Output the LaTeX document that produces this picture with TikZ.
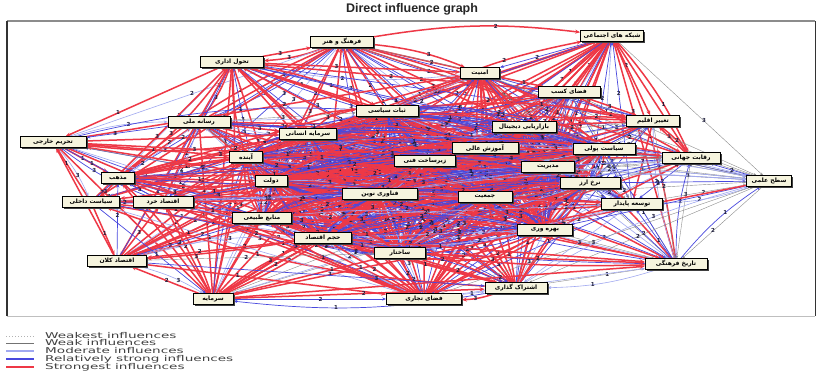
\documentclass[tikz,border=0pt]{standalone}
\usepackage{fontspec}
\setmainfont{DejaVu Sans}
\newfontfamily\arabicfont[Script=Arabic]{DejaVu Sans}
\newfontfamily\titlefont{Liberation Sans}
\usetikzlibrary{arrows.meta,shadows,backgrounds}
\TeXXeTstate=1
\definecolor{strongred}{RGB}{238,56,70}
\definecolor{relblue}{RGB}{72,72,222}
\definecolor{modblue}{RGB}{160,168,240}
\definecolor{weakgray}{RGB}{140,140,140}
\definecolor{boxfill}{RGB}{246,244,222}
\definecolor{labdark}{RGB}{30,30,60}
\pgfdeclarelayer{edges}
\pgfsetlayers{background,edges,main}
\tikzset{
 fac/.style={draw=black, line width=0.7pt, fill=boxfill, minimum height=10.5pt, inner sep=1pt,
   font=\arabicfont\bfseries\fontsize{6}{6.5}\selectfont,
   drop shadow={shadow xshift=1.6pt, shadow yshift=-1.6pt, fill=black!75, opacity=1}},
 e1/.style={draw=strongred, line width=1.5pt, -{Stealth[length=5pt,width=4pt]}},
 e2/.style={draw=relblue, line width=0.7pt, -{Stealth[length=4pt,width=3pt]}},
 e3/.style={draw=modblue, line width=0.6pt, -{Stealth[length=4pt,width=3pt]}},
 e4/.style={draw=weakgray, line width=0.4pt, -{Stealth[length=3pt,width=2.5pt]}},
 elab/.style={font=\bfseries\fontsize{5.5}{5.5}\selectfont, text=labdark, inner sep=0.4pt},
 legtext/.style={anchor=west, font=\fontsize{8}{8.5}\selectfont, text=black!75, inner sep=0pt},
}
\newcommand\mkfac[4]{\node[fac, minimum width=#3pt] (n#1) at (#2) {#4};}
\def\rwarr{{0.7,0.6,0.6,0.6,0.5,0.4,0.6,0.55,0.6,0.55,0.55,0.6,0.6,0.5,0.4,0.6,0.55,0.6,0.6,0.5,0.05,0.6,0.6,0.6,0.55,0.4,0.55,0.55,0.5,0.5,0.3,0.55,0.55,0.6,0.6}}
\def\cenarr{{0,0,0,0,0,0,1,0,0,1,1,1,1,1,0,1,1,0,1,1,0,1,1,0,0,0,1,1,1,1,0,0,0,0,0}}
\begin{document}
\begin{tikzpicture}[x=1pt,y=-1pt]
\begin{pgfonlayer}{background}
\fill[white] (0,0) rectangle (817,388);
\fill[white] (7,21) rectangle (815,316);
\draw[black!45, line width=1.6pt] (7,21) -- (815,21);
\draw[black!80, line width=1.4pt] (7,21) -- (7,316);
\draw[black!80, line width=0.8pt] (815,21) -- (815,316);
\draw[black!25, line width=0.8pt] (7,316) -- (815,316);
\end{pgfonlayer}
\useasboundingbox (0,0) rectangle (817,388);
\node[font=\titlefont\bfseries\fontsize{12.5}{14}\selectfont, text=black!85] (title) at (412,9) {Direct influence graph};
% factors
\mkfac{1}{612,36}{63}{\beginR شبکه های اجتماعی\endR}
\mkfac{2}{342,42}{63}{\beginR فرهنگ و هنر\endR}
\mkfac{3}{232,62}{63}{\beginR تحول اداری\endR}
\mkfac{4}{480,73}{39}{\beginR امنیت\endR}
\mkfac{5}{569,92}{62}{\beginR فضای کسب\endR}
\mkfac{6}{653,121}{53}{\beginR تغییر اقلیم\endR}
\mkfac{7}{524,127}{64}{\beginR بازاریابی دیجیتال\endR}
\mkfac{8}{199,122}{62}{\beginR رسانه ملی\endR}
\mkfac{9}{53,142}{66}{\beginR تحریم خارجی\endR}
\mkfac{10}{387,111}{62}{\beginR ثبات سیاسی\endR}
\mkfac{11}{308,134}{57}{\beginR سرمایه انسانی\endR}
\mkfac{12}{246,157}{33}{\beginR آینده\endR}
\mkfac{13}{485,148}{66}{\beginR آموزش عالی\endR}
\mkfac{14}{604,149}{62}{\beginR سیاست پولی\endR}
\mkfac{15}{691,158}{58}{\beginR رقابت جهانی\endR}
\mkfac{16}{425,161}{61}{\beginR زیرساخت فنی\endR}
\mkfac{17}{548,167}{53}{\beginR مدیریت\endR}
\mkfac{18}{118,178}{33}{\beginR مذهب\endR}
\mkfac{19}{271,181}{32}{\beginR دولت\endR}
\mkfac{20}{590,183}{60}{\beginR نرخ ارز\endR}
\mkfac{21}{769,181}{45}{\beginR سطح علمی\endR}
\mkfac{22}{380,194}{75}{\beginR فناوری نوین\endR}
\mkfac{23}{485,197}{54}{\beginR جمعیت\endR}
\mkfac{24}{91,202}{57}{\beginR سیاست داخلی\endR}
\mkfac{25}{163,202}{60}{\beginR اقتصاد خرد\endR}
\mkfac{26}{632,204}{61}{\beginR توسعه پایدار\endR}
\mkfac{27}{262,218}{59}{\beginR منابع طبیعی\endR}
\mkfac{28}{545,230}{55}{\beginR بهره وری\endR}
\mkfac{29}{323,238}{57}{\beginR حجم اقتصاد\endR}
\mkfac{30}{400,253}{51}{\beginR ساختار\endR}
\mkfac{31}{676,264}{62}{\beginR تاریخ فرهنگی\endR}
\mkfac{32}{117,261}{59}{\beginR اقتصاد کلان\endR}
\mkfac{33}{516,288}{62}{\beginR اشتراک گذاری\endR}
\mkfac{34}{424,299}{75}{\beginR فضای تجاری\endR}
\mkfac{35}{213,299}{40}{\beginR سرمایه\endR}
% connectors
\begin{pgfonlayer}{edges}
\pgfmathsetseed{11}
\foreach \ii in {1,...,34}{
  \pgfmathtruncatemacro{\jstart}{\ii+1}
  \foreach \jj in {\jstart,...,35}{
    \path (n\ii.center); \pgfgetlastxy{\xa}{\ya}
    \path (n\jj.center); \pgfgetlastxy{\xb}{\yb}
    \pgfmathsetmacro{\dist}{veclen(\xa-\xb,\ya-\yb)}
    \pgfmathsetmacro{\pkeep}{min(0.97,1.35-\dist/480)}
    \pgfmathtruncatemacro{\bothc}{\cenarr[\ii-1]*\cenarr[\jj-1]}
    \pgfmathsetmacro{\rwv}{min(0.85,1.6*\rwarr[\ii-1]*\rwarr[\jj-1])}
    \pgfmathsetmacro{\rr}{rnd}
    \pgfmathtruncatemacro{\kk}{\rr<\rwv ? 1 : (\rr<\rwv+0.3 ? 2 : (\rr<\rwv+0.45 ? 3 : 4))}
    \pgfmathtruncatemacro{\dr}{rnd<\pkeep ? 1 : 0}
    \pgfmathtruncatemacro{\dd}{rnd<0.5 ? 1 : 0}
    \pgfmathsetmacro{\pp}{0.3+0.4*rnd}
    \pgfmathtruncatemacro{\lb}{random(1,3)}
    \pgfmathsetmacro{\rs}{rnd}
    \pgfmathtruncatemacro{\kr}{\rs<\rwv ? 1 : (\rs<\rwv+0.3 ? 2 : 3)}
    \pgfmathtruncatemacro{\rv}{(rnd<0.35*\pkeep) || (\bothc==1) ? 1 : 0}
    \pgfmathtruncatemacro{\lbb}{random(1,3)}
    \pgfmathtruncatemacro{\lbc}{random(1,3)}
    \ifnum\dd=1 \def\srcn{n\ii}\def\dstn{n\jj}\else\def\srcn{n\jj}\def\dstn{n\ii}\fi
    \ifnum\dr=1
      \path[e\kk] (\srcn) -- node[elab, pos=\pp]{\lb} (\dstn);
    \fi
    \ifnum\rv=1
      \path[e\kr] (\dstn) to[bend left=8] node[elab, pos=0.6]{\lbb} (\srcn);
    \fi
    \ifnum\bothc=1
      \path[e2] (\srcn) to[bend left=14] node[elab, pos=0.45]{\lbc} (\dstn);
      \path[e1] (\dstn) to[bend left=20] node[elab, pos=0.35]{\lb} (\srcn);
      \path[e2] (\dstn) to[bend right=12] node[elab, pos=0.55]{\lbb} (\srcn);
    \fi
  }
}
\end{pgfonlayer}
% legend
\coordinate (la1) at (6,336); \coordinate (lb1) at (34,336);
\coordinate (la2) at (6,343); \coordinate (lb2) at (34,343);
\coordinate (la3) at (6,351); \coordinate (lb3) at (34,351);
\coordinate (la4) at (6,359); \coordinate (lb4) at (34,359);
\coordinate (la5) at (6,367); \coordinate (lb5) at (34,367);
\draw[draw=black!30, dotted, line width=1pt] (la1) -- (lb1);
\draw[draw=black!55, line width=0.8pt] (la2) -- (lb2);
\draw[draw=modblue, line width=1.4pt] (la3) -- (lb3);
\draw[draw=relblue, line width=1.4pt] (la4) -- (lb4);
\draw[draw=strongred, line width=1.4pt] (la5) -- (lb5);
\node[legtext] (lt1) at (45,336) {\scalebox{1.7}[1]{Weakest influences}};
\node[legtext] (lt2) at (45,343) {\scalebox{1.7}[1]{Weak influences}};
\node[legtext] (lt3) at (45,351) {\scalebox{1.7}[1]{Moderate influences}};
\node[legtext] (lt4) at (45,359) {\scalebox{1.7}[1]{Relatively strong influences}};
\node[legtext] (lt5) at (45,367) {\scalebox{1.7}[1]{Strongest influences}};
\end{tikzpicture}
\end{document}
